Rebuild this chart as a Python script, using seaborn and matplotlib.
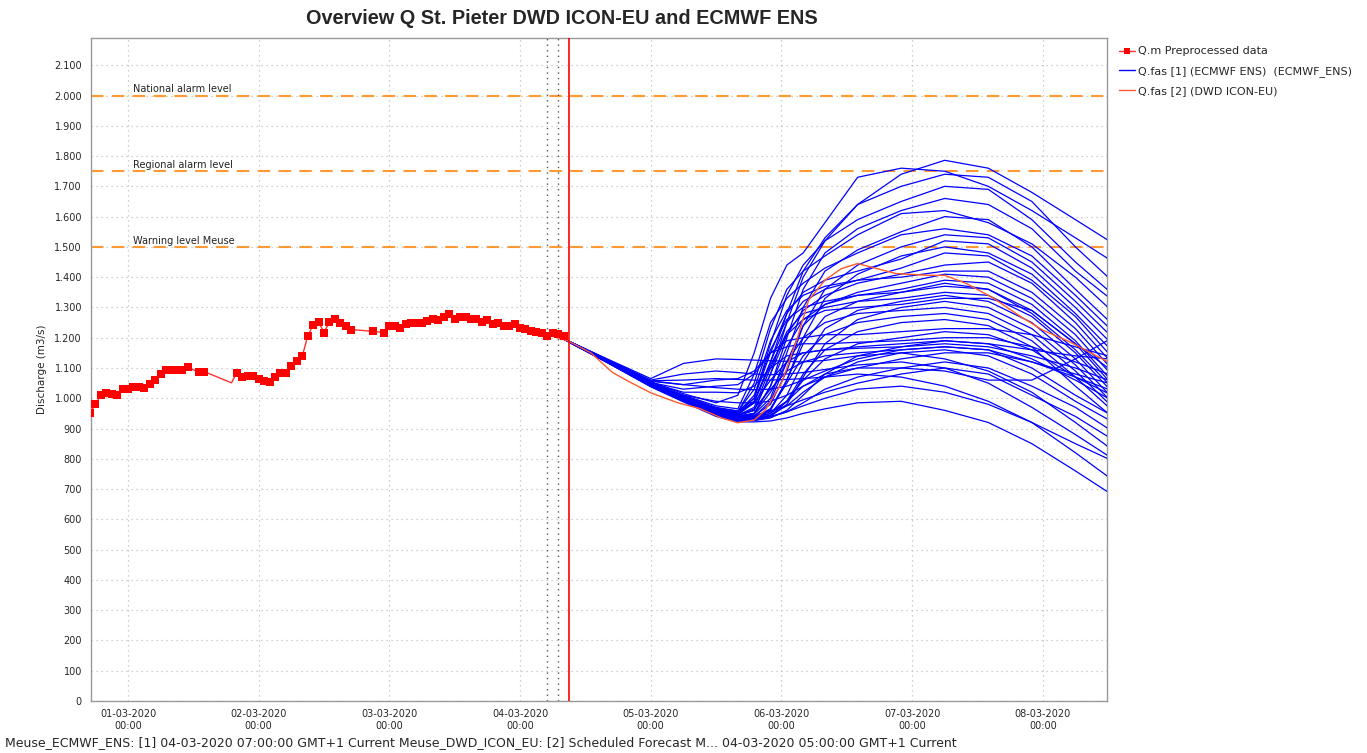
import pandas as pd
import numpy as np
import matplotlib
matplotlib.use('Agg')
import matplotlib.pyplot as plt
import matplotlib.dates as mdates
from matplotlib.ticker import FuncFormatter, MultipleLocator
from matplotlib.lines import Line2D
import seaborn as sns

# ---- data (hours relative to 01-03-2020 00:00) ----
base_time = pd.Timestamp('2020-03-01 00:00')

# observed / preprocessed discharge (hourly)
obs_hours = [-7, -6, -5, -4, -3, -2, -1, 0, 1, 2, 3, 4, 5, 6, 7, 8, 9, 10, 11, 13, 14, 19,
             20, 21, 22, 23, 24, 25, 26, 27, 28, 29, 30, 31, 32, 33, 34, 35, 36, 37, 38, 39,
             40, 41, 45, 47, 48, 49, 50, 51, 52, 53, 54, 55, 56, 57, 58, 59, 60, 61, 62, 63,
             64, 65, 66, 67, 68, 69, 70, 71, 72, 73, 74, 75, 76, 77, 78, 79, 80]
obs_q = [952, 980, 1010, 1018, 1015, 1012, 1030, 1030, 1038, 1038, 1033, 1046, 1061, 1080,
         1092, 1095, 1095, 1092, 1102, 1086, 1088, 1051,
         1085, 1070, 1073, 1073, 1062, 1057, 1053, 1070, 1084, 1085, 1106, 1124, 1139, 1205,
         1242, 1252, 1217, 1253, 1263, 1249, 1238, 1227, 1221, 1217, 1239, 1239, 1232, 1244,
         1247, 1247, 1250, 1255, 1262, 1257, 1268, 1278, 1261, 1268, 1267, 1261, 1263, 1253,
         1258, 1244, 1249, 1240, 1240, 1244, 1232, 1228, 1221, 1219, 1216, 1207, 1215, 1212, 1207]
obs_unmarked_hours = [19]

# DWD ICON-EU forecast
dwd_hours = [77, 81, 85, 89, 92, 96, 101, 105, 109, 112, 115, 117, 120, 123, 125, 128, 131,
             134, 141, 147, 150, 154, 159, 164, 168, 173, 177, 180]
dwd_q = [1210, 1188, 1150, 1085, 1055, 1018, 985, 966, 935, 919, 928, 960, 1049, 1203, 1324,
         1390, 1428, 1445, 1412, 1406, 1406, 1379, 1330, 1269, 1225, 1186, 1148, 1120]

# ECMWF ENS members
ens_hours = [79, 88, 96, 102, 108, 112, 115, 118, 121, 124, 128, 134, 142, 150, 158, 166, 174, 180]
ens_members = [
    [1205, 1125, 1050, 1005, 968, 952, 990, 1120, 1280, 1420, 1530, 1640, 1740, 1786, 1760, 1680, 1590, 1522],
    [1205, 1128, 1055, 1015, 985, 1010, 1150, 1330, 1440, 1480, 1580, 1730, 1760, 1750, 1700, 1620, 1530, 1461],
    [1205, 1124, 1048, 1002, 962, 946, 960, 1080, 1250, 1400, 1520, 1640, 1700, 1740, 1730, 1650, 1500, 1400],
    [1205, 1126, 1052, 1008, 970, 958, 1000, 1180, 1340, 1440, 1520, 1590, 1650, 1700, 1690, 1590, 1450, 1357],
    [1205, 1123, 1046, 1000, 958, 942, 950, 1040, 1200, 1360, 1480, 1560, 1620, 1660, 1640, 1560, 1420, 1335],
    [1205, 1125, 1050, 1006, 966, 955, 1050, 1230, 1360, 1420, 1470, 1540, 1610, 1620, 1580, 1510, 1400, 1300],
    [1205, 1122, 1045, 998, 955, 940, 948, 1000, 1150, 1300, 1420, 1490, 1550, 1600, 1590, 1500, 1360, 1258],
    [1205, 1127, 1053, 1010, 975, 965, 1080, 1250, 1330, 1380, 1430, 1480, 1540, 1560, 1540, 1470, 1340, 1236],
    [1205, 1121, 1044, 996, 952, 936, 942, 980, 1090, 1240, 1360, 1440, 1500, 1540, 1530, 1450, 1320, 1215],
    [1205, 1125, 1049, 1004, 963, 950, 1000, 1150, 1280, 1350, 1390, 1420, 1460, 1520, 1510, 1430, 1300, 1192],
    [1205, 1120, 1043, 995, 950, 934, 938, 960, 1060, 1200, 1330, 1410, 1470, 1500, 1480, 1410, 1280, 1170],
    [1205, 1124, 1048, 1002, 960, 946, 985, 1120, 1250, 1320, 1360, 1390, 1430, 1480, 1470, 1390, 1270, 1150],
    [1205, 1123, 1047, 1000, 957, 942, 960, 1080, 1210, 1290, 1340, 1380, 1410, 1440, 1450, 1380, 1250, 1130],
    [1205, 1126, 1051, 1007, 968, 957, 1030, 1190, 1290, 1340, 1370, 1390, 1400, 1420, 1420, 1350, 1230, 1110],
    [1205, 1121, 1044, 997, 951, 935, 940, 990, 1120, 1240, 1310, 1350, 1380, 1410, 1400, 1330, 1210, 1090],
    [1205, 1122, 1046, 999, 954, 938, 950, 1040, 1170, 1260, 1310, 1340, 1360, 1390, 1380, 1310, 1190, 1071],
    [1205, 1125, 1050, 1005, 964, 952, 1010, 1160, 1260, 1300, 1320, 1340, 1350, 1370, 1360, 1290, 1180, 1060],
    [1205, 1120, 1042, 994, 948, 932, 935, 965, 1060, 1180, 1270, 1320, 1350, 1380, 1360, 1280, 1160, 1049],
    [1205, 1123, 1047, 1001, 958, 944, 970, 1100, 1220, 1280, 1300, 1320, 1330, 1350, 1340, 1270, 1150, 1035],
    [1205, 1119, 1041, 992, 946, 930, 932, 950, 1010, 1120, 1230, 1290, 1320, 1340, 1320, 1250, 1130, 1016],
    [1205, 1124, 1048, 1003, 960, 947, 990, 1110, 1210, 1260, 1290, 1300, 1310, 1330, 1330, 1290, 1180, 1100],
    [1205, 1126, 1052, 1030, 1040, 1045, 1080, 1150, 1190, 1200, 1210, 1210, 1220, 1230, 1230, 1210, 1170, 1140],
    [1205, 1119, 1040, 991, 944, 928, 930, 940, 980, 1070, 1180, 1260, 1300, 1320, 1300, 1230, 1110, 1000],
    [1205, 1122, 1045, 998, 953, 938, 950, 1020, 1120, 1200, 1250, 1280, 1290, 1300, 1280, 1210, 1090, 985],
    [1205, 1127, 1058, 1045, 1060, 1065, 1090, 1150, 1170, 1180, 1180, 1185, 1190, 1200, 1200, 1170, 1120, 1080],
    [1205, 1120, 1042, 994, 948, 933, 936, 965, 1050, 1140, 1210, 1250, 1270, 1280, 1260, 1190, 1070, 972],
    [1205, 1124, 1049, 1004, 962, 950, 985, 1060, 1120, 1150, 1160, 1170, 1180, 1190, 1180, 1160, 1140, 1130],
    [1205, 1119, 1041, 992, 945, 929, 931, 942, 990, 1080, 1160, 1220, 1250, 1260, 1240, 1170, 1040, 950],
    [1205, 1123, 1047, 1001, 957, 943, 965, 1030, 1090, 1120, 1140, 1150, 1160, 1170, 1160, 1120, 1070, 1030],
    [1205, 1126, 1051, 1020, 1020, 1018, 1040, 1100, 1140, 1150, 1160, 1165, 1170, 1180, 1170, 1140, 1100, 1060],
    [1205, 1121, 1044, 996, 950, 934, 938, 955, 990, 1060, 1130, 1180, 1200, 1220, 1210, 1160, 1070, 1016],
    [1205, 1118, 1039, 990, 942, 925, 926, 935, 960, 1010, 1080, 1140, 1170, 1190, 1180, 1130, 1060, 1000],
    [1205, 1120, 1042, 994, 947, 930, 932, 945, 975, 1020, 1070, 1120, 1150, 1160, 1140, 1080, 990, 930],
    [1205, 1124, 1048, 1010, 990, 985, 985, 990, 1010, 1040, 1070, 1100, 1130, 1150, 1150, 1120, 1080, 1050],
    [1205, 1119, 1040, 991, 944, 927, 928, 938, 955, 985, 1030, 1070, 1100, 1120, 1100, 1040, 970, 900],
    [1205, 1122, 1045, 999, 953, 939, 944, 958, 975, 995, 1020, 1050, 1080, 1100, 1080, 1010, 940, 873],
    [1205, 1130, 1065, 1115, 1130, 1128, 1126, 1124, 1122, 1120, 1125, 1140, 1150, 1130, 1090, 1020, 920, 840],
    [1205, 1128, 1060, 1080, 1090, 1085, 1080, 1078, 1080, 1085, 1095, 1110, 1120, 1100, 1050, 970, 880, 810],
    [1205, 1127, 1058, 1060, 1065, 1062, 1060, 1060, 1062, 1065, 1070, 1080, 1070, 1040, 990, 920, 820, 741],
    [1205, 1126, 1056, 1045, 1035, 1030, 1028, 1030, 1040, 1060, 1090, 1130, 1160, 1170, 1160, 1100, 1010, 950],
    [1205, 1118, 1038, 988, 940, 922, 922, 925, 935, 950, 965, 985, 990, 960, 920, 850, 760, 690],
    [1205, 1120, 1042, 995, 946, 930, 932, 940, 955, 975, 1000, 1030, 1040, 1020, 980, 920, 850, 800],
    [1205, 1122, 1044, 997, 950, 935, 938, 950, 990, 1040, 1080, 1100, 1100, 1090, 1060, 1060, 1130, 1192],
]

# threshold levels
level_values = [2000, 1750, 1500]
level_labels = ['National alarm level', 'Regional alarm level', 'Warning level Meuse']

# markers in time
dwd_t0_hour = 77
ens_t0_hour = 79
now_hour = 81


def to_time(hours):
    return base_time + pd.to_timedelta(np.asarray(hours, dtype=float), unit='h')


# long table for seaborn
ens_df = pd.DataFrame({
    'time': np.tile(to_time(ens_hours), len(ens_members)),
    'q': np.concatenate(ens_members),
    'member': np.repeat(np.arange(len(ens_members)), len(ens_hours)),
})
obs_df = pd.DataFrame({'time': to_time(obs_hours), 'q': obs_q})
obs_marked = obs_df[~pd.Series(obs_hours).isin(obs_unmarked_hours)]
dwd_df = pd.DataFrame({'time': to_time(dwd_hours), 'q': dwd_q})

sns.set_style('white')
plt.rcParams['font.family'] = ['DejaVu Sans']

fig = plt.figure(figsize=(13.67, 7.53), dpi=100)
ax = fig.add_axes([91 / 1367, 1 - 701 / 753, (1107 - 91) / 1367, (701 - 38) / 753])

grid_color = '#c0c0c0'
ax.grid(True, color=grid_color, linestyle=(0, (1, 3)), linewidth=0.9)

# ensemble members
sns.lineplot(data=ens_df, x='time', y='q', units='member', estimator=None,
             color='#0000ff', linewidth=0.9, ax=ax, legend=False, zorder=3)

# DWD ICON-EU
sns.lineplot(data=dwd_df, x='time', y='q', color='#ff5a2a', linewidth=1.0,
             ax=ax, legend=False, zorder=4)

# observations
sns.lineplot(data=obs_df, x='time', y='q', color='#ff3030', linewidth=1.0,
             ax=ax, legend=False, zorder=5)
sns.scatterplot(data=obs_marked, x='time', y='q', marker='s', color='#ff0000',
                s=30, linewidth=0, ax=ax, legend=False, zorder=6)

# threshold levels
for val, lab in zip(level_values, level_labels):
    ax.axhline(val, color='#ff9933', linestyle=(0, (6, 4)), linewidth=1.5, zorder=2)
    ax.text(to_time([1])[0], val + 4, lab, fontsize=7, color='#222222', va='bottom', ha='left')

# forecast T0 markers and current time
for h in [dwd_t0_hour, ens_t0_hour]:
    ax.axvline(to_time([h])[0], color='#555555', linestyle=(0, (1, 3)), linewidth=1.0, zorder=2)
ax.axvline(to_time([now_hour])[0], color='#ff0000', linewidth=1.2, zorder=7)

# axes formatting
ax.set_xlim(to_time([-6.8])[0], to_time([179.8])[0])
ax.set_ylim(0, 2190)
ax.yaxis.set_major_locator(MultipleLocator(100))
ax.yaxis.set_major_formatter(FuncFormatter(lambda v, _: f'{int(round(v)):,}'.replace(',', '.')))
ax.xaxis.set_major_locator(mdates.DayLocator())
ax.xaxis.set_major_formatter(mdates.DateFormatter('%d-%m-%Y\n%H:%M'))
ax.tick_params(axis='both', labelsize=7, length=3, width=0.8, color='#666666', direction='out')
ax.tick_params(axis='x', pad=3)
ax.set_xlabel('')
ax.set_ylabel('Discharge (m3/s)', fontsize=7.5, labelpad=5)
for sp in ax.spines.values():
    sp.set_color('#999999')
    sp.set_linewidth(1.0)

# title and footer
fig.text(562 / 1367, 1 - 18 / 753, 'Overview Q St. Pieter DWD ICON-EU and ECMWF ENS',
         ha='center', va='center', fontsize=14.3, fontweight='bold', family='Liberation Sans')
fig.text(5 / 1367, 1 - 743 / 753,
         'Meuse_ECMWF_ENS: [1] 04-03-2020 07:00:00 GMT+1 Current Meuse_DWD_ICON_EU: [2] '
         'Scheduled Forecast M... 04-03-2020 05:00:00 GMT+1 Current',
         ha='left', va='center', fontsize=9)

# legend
handles = [
    Line2D([0], [0], color='#ff3030', marker='s', markersize=5, markerfacecolor='#ff0000',
           markeredgewidth=0, linewidth=1.0),
    Line2D([0], [0], color='#0000ff', linewidth=1.0),
    Line2D([0], [0], color='#ff5a2a', linewidth=1.0),
]
labels = ['Q.m Preprocessed data', 'Q.fas [1] (ECMWF ENS)  (ECMWF_ENS)', 'Q.fas [2] (DWD ICON-EU)']
fig.legend(handles, labels, loc='upper left', bbox_to_anchor=(1115 / 1367, 1 - 42 / 753),
           frameon=False, fontsize=8, handlelength=1.4, handletextpad=0.3, labelspacing=0.85,
           borderaxespad=0)

fig.savefig('out.png', dpi=100)
